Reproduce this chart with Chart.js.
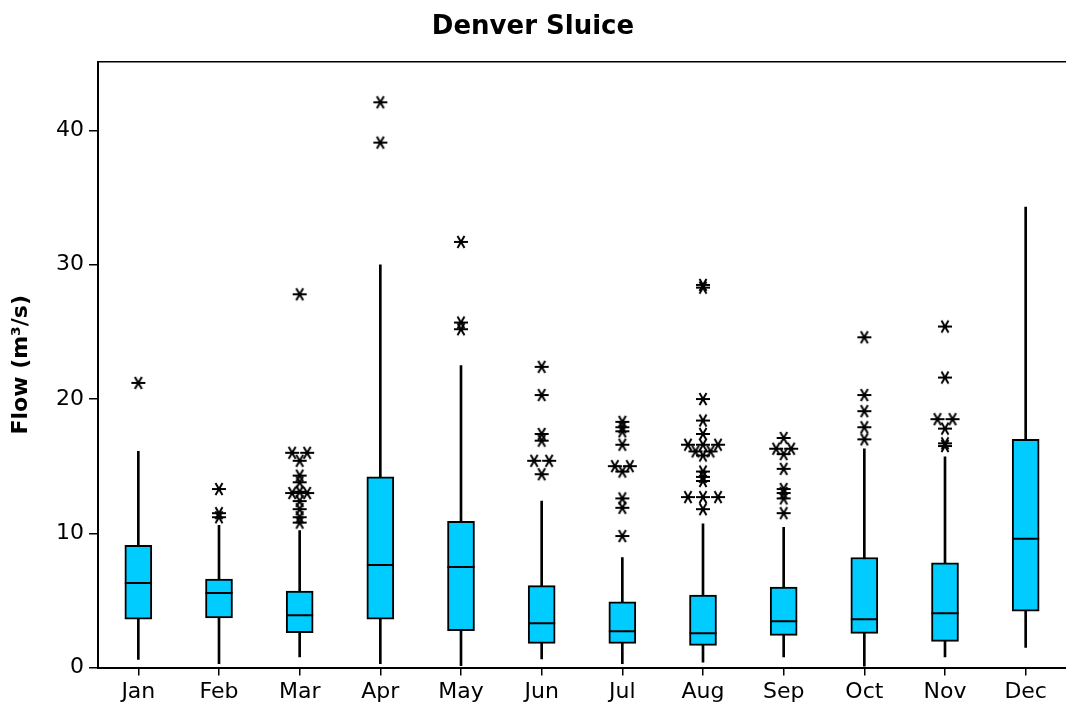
<!DOCTYPE html>
<html>
<head>
<meta charset="utf-8">
<script src="https://cdn.jsdelivr.net/npm/chart.js@4.4.1/dist/chart.umd.min.js"></script>
<style>
html,body{margin:0;padding:0;background:#fff;overflow:hidden}
#wrap{width:1100px;height:709px}
</style>
</head>
<body>
<div id="wrap"><canvas id="myChart" width="1100" height="709"></canvas></div>
<script>
// data
let months=['Jan','Feb','Mar','Apr','May','Jun','Jul','Aug','Sep','Oct','Nov','Dec']
let whiskerLow=[0.6,0.3,0.8,0.3,0.15,0.65,0.3,0.4,0.8,0.1,0.8,1.5]
let q1=[3.6,3.7,2.6,3.6,2.75,1.8,1.8,1.65,2.4,2.55,1.95,4.2]
let median=[6.3,5.55,3.9,7.65,7.5,3.3,2.7,2.55,3.45,3.6,4.05,9.6]
let q3=[9.1,6.6,5.7,14.2,10.9,6.1,4.9,5.4,6.0,8.2,7.8,17.0]
let whiskerHigh=[16.1,10.6,10.2,30.0,22.5,12.4,8.2,10.7,10.45,16.3,15.7,34.3]
let outliers=[
    [21.2],
    [13.3,11.5,11.2],
    [27.8,16.0,16.0,15.4,14.3,13.8,13.0,13.0,13.1,12.4,11.8,11.2,10.8],
    [42.1,39.1],
    [31.7,25.7,25.2],
    [22.4,20.3,17.4,16.9,15.4,15.4,14.4],
    [18.3,17.9,17.6,16.6,15.0,15.0,14.6,12.6,11.9,9.8],
    [28.5,28.3,20.0,18.4,17.4,16.6,16.6,16.6,16.1,16.1,15.8,14.6,14.2,13.9,12.7,12.7,12.7,11.8],
    [17.1,16.3,16.3,15.9,14.8,13.3,13.0,12.6,11.5],
    [24.6,20.3,19.1,17.9,17.0],
    [25.4,21.6,18.5,18.5,17.8,16.7,16.5],
    []
]
let yTicks=[0,10,20,30,40]

// equal outliers sit side by side like minitab does
let outlierPoints=[]
outliers.forEach((vals,i)=>{
    let groups={}
    vals.forEach(v=>{ (groups[v]=groups[v]||[]).push(v) })
    Object.values(groups).forEach(g=>{
        g.forEach((v,k)=>{
            outlierPoints.push({x:i+(k-(g.length-1)/2)*0.186, y:v})
        })
    })
})

// asterisk symbol
let star=document.createElement('canvas')
star.width=16; star.height=16
let sctx=star.getContext('2d')
sctx.strokeStyle='#000'
sctx.lineWidth=2
sctx.lineCap='butt'
for(let a=0;a<3;a++){
    let ang=a*Math.PI/3
    sctx.beginPath()
    sctx.moveTo(8-7*Math.cos(ang),8-7*Math.sin(ang))
    sctx.lineTo(8+7*Math.cos(ang),8+7*Math.sin(ang))
    sctx.stroke()
}

Chart.defaults.font.family="'DejaVu Sans', Verdana, sans-serif"
Chart.defaults.color='#000'

var ctx=document.getElementById('myChart').getContext('2d');
var myChart=new Chart(ctx,{
    type:'bar',
    data:{
        labels:months,
        datasets:[
            {
                type:'line',
                label:'median',
                data:median,
                showLine:false,
                pointStyle:'line',
                pointRadius:13.5,
                pointHoverRadius:13.5,
                borderColor:'#000',
                pointBorderWidth:2,
                order:0
            },
            {
                label:'box',
                data:q1.map((v,i)=>[v,q3[i]]),
                backgroundColor:'#00CCFF',
                borderColor:'#000',
                borderWidth:2,
                borderSkipped:false,
                barThickness:27,
                grouped:false,
                order:1
            },
            {
                label:'whisker',
                data:whiskerLow.map((v,i)=>[v,whiskerHigh[i]]),
                backgroundColor:'#000',
                barThickness:2,
                grouped:false,
                order:2
            },
            {
                type:'scatter',
                label:'outliers',
                data:outlierPoints,
                xAxisID:'x2',
                pointStyle:star,
                pointRadius:8,
                order:0
            }
        ]
    },
    options:{
        responsive:false,
        animation:false,
        devicePixelRatio:1,
        layout:{padding:{left:0,right:34,top:0,bottom:1}},
        plugins:{
            legend:{display:false},
            tooltip:{enabled:false},
            title:{
                display:true,
                text:'Denver Sluice',
                color:'#000',
                font:{size:26,weight:'bold'},
                padding:{top:12,bottom:18.8}
            }
        },
        scales:{
            x:{
                type:'category',
                offset:true,
                grid:{display:true,offset:false,drawOnChartArea:false,drawTicks:true,tickLength:8,color:'#000',lineWidth:1.5},
                border:{display:true,color:'#000',width:2},
                ticks:{font:{size:22},color:'#000',padding:3,maxRotation:0}
            },
            x2:{
                type:'linear',
                position:'top',
                offset:false,
                min:-0.5,
                max:11.5,
                grid:{display:false,drawTicks:false,offset:false},
                border:{display:true,color:'#000',width:1.5},
                ticks:{display:false}
            },
            y:{
                min:0,
                max:45.1,
                afterFit:function(scale){ scale.width=98 },
                afterBuildTicks:function(scale){ scale.ticks=yTicks.map(v=>({value:v})) },
                grid:{drawOnChartArea:false,drawTicks:true,tickLength:9,color:'#000',lineWidth:1.5},
                border:{display:true,color:'#000',width:2},
                ticks:{font:{size:22},color:'#000',padding:5},
                title:{
                    display:true,
                    text:'Flow (m³/s)',
                    color:'#000',
                    font:{size:22,weight:'bold'},
                    padding:{top:8,bottom:0}
                }
            }
        }
    }
});
</script>
</body>
</html>
